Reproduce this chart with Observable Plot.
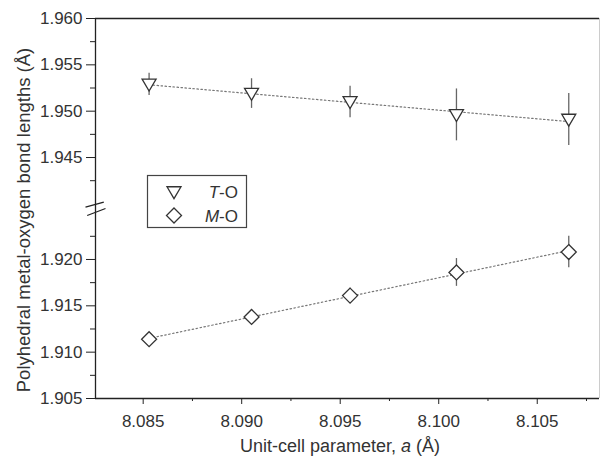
<!DOCTYPE html>
<html><head><meta charset="utf-8">
<script src="https://cdn.jsdelivr.net/npm/d3@7"></script>
<script src="https://cdn.jsdelivr.net/npm/@observablehq/plot@0.6"></script>
<style>
body{margin:0;background:#fff}
#chart{position:relative;width:604px;height:460px}
</style>
</head><body><div id="chart"></div>
<script>
// ---- data ----
const cellParam = [8.0853, 8.0905, 8.0955, 8.1009, 8.1066];
const toBond   = [1.9529, 1.9519, 1.9510, 1.9496, 1.9491];
const toErr    = [0.0012, 0.0016, 0.0017, 0.0028, 0.0028];
const moBond   = [1.9114, 1.9138, 1.9161, 1.9186, 1.9208];
const moErr    = [0.0006, 0.0008, 0.0008, 0.0015, 0.0017];
const yMajor = [1.905, 1.910, 1.915, 1.920, 1.945, 1.950, 1.955, 1.960];
const yMinor = [1.9075, 1.9125, 1.9175, 1.9225, 1.9425, 1.9475, 1.9525, 1.9575];
const xMajor = [8.085, 8.090, 8.095, 8.100, 8.105];
const xMinor = [8.0875, 8.0925, 8.0975, 8.1025, 8.1075];
const legendItems = [{it: "T", rest: "-O"}, {it: "M", rest: "-O"}];

// broken y axis: values above the break are shifted down
const GAP = 0.014, CUT = 1.935, BREAK_V = 1.9255;
const brk = v => v > CUT ? v - GAP : v;
const unbrk = v => v > BREAK_V ? v + GAP : v;

const xDomain = [8.08258, 8.10816];
const yDomain = [brk(1.905), brk(1.960)];

const pts = cellParam.map((x, i) => ({x, to: toBond[i], toE: toErr[i], mo: moBond[i], moE: moErr[i]}));

const triDown = {draw(ctx, size){const r = Math.sqrt(size/Math.PI); ctx.moveTo(-r, -r*0.75); ctx.lineTo(r, -r*0.75); ctx.lineTo(0, r*0.95); ctx.closePath();}};
const diamond = {draw(ctx, size){const r = Math.sqrt(size/Math.PI); ctx.moveTo(0, -r); ctx.lineTo(r, 0); ctx.lineTo(0, r); ctx.lineTo(-r, 0); ctx.closePath();}};
const slashes = {draw(ctx){ctx.moveTo(-10, -1.3); ctx.lineTo(8.3, -6.3); ctx.moveTo(-8.3, 7); ctx.lineTo(10, 0);}};

const font = "'Liberation Sans', Arial, sans-serif";
const ink = "#333";

const plot = Plot.plot({
  width: 604, height: 460,
  marginTop: 18, marginBottom: 62, marginLeft: 95, marginRight: 5,
  style: {fontFamily: font, fontSize: "17px", color: ink, background: "#fff"},
  x: {domain: xDomain},
  y: {domain: yDomain},
  marks: [
    // frame
    Plot.ruleX([xDomain[1]], {stroke: "#ccc", strokeWidth: 1}),
    Plot.ruleY([yDomain[1]], {stroke: "#222", strokeWidth: 1.3}),
    Plot.ruleY([yDomain[0]], {stroke: "#222", strokeWidth: 1.3}),
    Plot.ruleX([xDomain[0]], {stroke: "#222", strokeWidth: 1.3}),
    // axes
    Plot.axisY(yMajor.map(brk), {anchor: "left", tickSize: 9, tickPadding: 4, tickFormat: d => unbrk(d).toFixed(3), fontSize: 17, label: null, stroke: "#222"}),
    Plot.axisY(yMinor.map(brk), {anchor: "left", tickSize: 5, tickFormat: () => "", label: null, stroke: "#222"}),
    Plot.axisX(xMajor, {anchor: "bottom", tickSize: 6, tickPadding: 10, tickFormat: d => d.toFixed(3), fontSize: 17, label: null, stroke: "#222"}),
    Plot.axisX(xMinor, {anchor: "bottom", tickSize: 3, tickFormat: () => "", label: null, stroke: "#222"}),
    // axis break marks
    Plot.dot([BREAK_V], {x: () => xDomain[0], y: d => d, symbol: slashes, r: 1, fill: "none", stroke: "#222", strokeWidth: 1.3}),
    // trend lines
    Plot.linearRegressionY(pts, {x: "x", y: d => brk(d.to), ci: 0, stroke: "#777", strokeWidth: 1.2, strokeDasharray: "1.5,2.5"}),
    Plot.linearRegressionY(pts, {x: "x", y: d => brk(d.mo), ci: 0, stroke: "#777", strokeWidth: 1.2, strokeDasharray: "1.5,2.5"}),
    // error bars
    Plot.ruleX(pts, {x: "x", y1: d => brk(d.to - d.toE), y2: d => brk(d.to + d.toE), stroke: "#666", strokeWidth: 1.3}),
    Plot.ruleX(pts, {x: "x", y1: d => brk(d.mo - d.moE), y2: d => brk(d.mo + d.moE), stroke: "#666", strokeWidth: 1.3}),
    // markers
    Plot.dot(pts, {x: "x", y: d => brk(d.to), symbol: triDown, r: 7, fill: "white", stroke: ink, strokeWidth: 1.3}),
    Plot.dot(pts, {x: "x", y: d => brk(d.mo), symbol: diamond, r: 7.5, fill: "white", stroke: ink, strokeWidth: 1.3})
  ]
});
document.getElementById("chart").appendChild(plot);

// titles and legend
const svg = d3.select(plot);
const xt = svg.append("text").attr("x", 340).attr("y", 452).attr("text-anchor", "middle")
  .attr("font-family", font).attr("font-size", 18).attr("fill", ink);
xt.append("tspan").text("Unit-cell parameter, ");
xt.append("tspan").attr("font-style", "italic").text("a");
xt.append("tspan").text(" (Å)");

svg.append("text").attr("transform", "translate(30,220) rotate(-90)").attr("text-anchor", "middle")
  .attr("font-family", font).attr("font-size", 18.5).attr("fill", ink)
  .text("Polyhedral metal-oxygen bond lengths (Å)");

const lg = svg.append("g");
lg.append("rect").attr("x", 147.5).attr("y", 175.5).attr("width", 99).attr("height", 52)
  .attr("fill", "white").attr("stroke", "#444").attr("stroke-width", 1.2);
const legendSyms = [
  "M-7,-5.25L7,-5.25L0,6.65Z",
  "M0,-7.5L7.5,0L0,7.5L-7.5,0Z"
];
legendItems.forEach((d, i) => {
  const cy = 192 + i * 23.5;
  lg.append("path").attr("d", legendSyms[i]).attr("transform", `translate(174,${cy})`)
    .attr("fill", "white").attr("stroke", ink).attr("stroke-width", 1.3);
  const t = lg.append("text").attr("x", 238).attr("y", cy + 6).attr("text-anchor", "end")
    .attr("font-family", font).attr("font-size", 17).attr("fill", ink);
  t.append("tspan").attr("font-style", "italic").text(d.it);
  t.append("tspan").text(d.rest);
});
</script>
</body></html>
